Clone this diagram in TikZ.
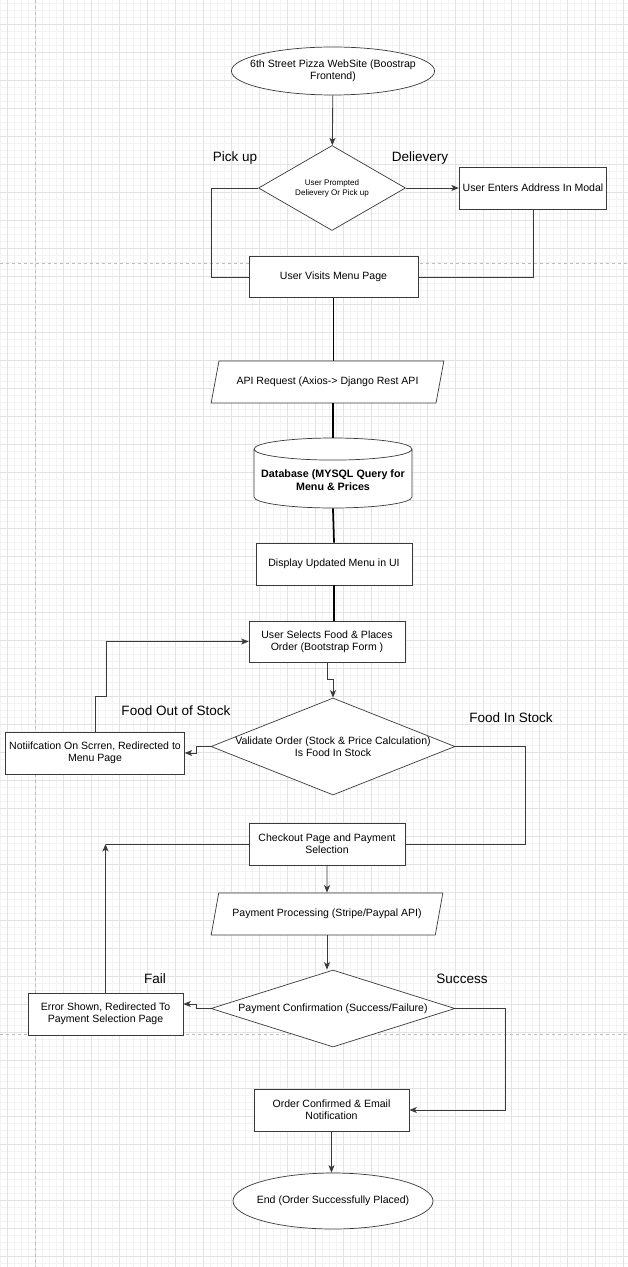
\documentclass[tikz,border=0pt]{standalone}
\usepackage{fontspec}
\setmainfont{Liberation Sans}
\usetikzlibrary{positioning,arrows.meta,calc,shapes.geometric}
\definecolor{ink}{HTML}{3A3A3A}
\definecolor{gridmajor}{HTML}{E2E2E2}
\definecolor{gridminor}{HTML}{F3F3F3}
\definecolor{pagebreak}{HTML}{BDBDBD}
\newcommand{\boxfont}{\fontsize{6}{6.8}\selectfont}
\newcommand{\tinyfont}{\fontsize{4.6}{5.7}\selectfont}
\newcommand{\tagfont}{\fontsize{7.7}{9}\selectfont}
\tikzset{
  procbox/.style={draw=ink, fill=white, align=center, font=\boxfont, minimum height=0.84cm, inner sep=2pt},
  endbox/.style={ellipse, draw=ink, fill=white, align=center, font=\boxfont, inner xsep=-0.22cm, inner ysep=0pt},
  decbox/.style={diamond, draw=ink, fill=white, inner sep=0pt},
  dectext/.style={align=center, inner sep=0pt},
  iobox/.style={trapezium, trapezium left angle=72, trapezium right angle=108, trapezium stretches=true, draw=ink, fill=white, align=center, font=\boxfont, minimum height=0.84cm},
  dbbox/.style={cylinder, shape border rotate=90, aspect=0.15, inner sep=1pt, anchor=shape center, draw=ink, fill=white, align=center, font=\bfseries\fontsize{6.1}{7.2}\selectfont},
  tagtext/.style={font=\tagfont, inner sep=0pt},
  flowarrow/.style={-{Stealth[length=1.5mm,width=1.2mm,inset=0.4mm]}, draw=ink, line width=0.5pt},
  flowline/.style={draw=ink, line width=0.5pt},
  mainline/.style={draw=black, line width=1pt}
}
\begin{document}
\begin{tikzpicture}[x=0.02cm, y=-0.02cm]
  \useasboundingbox (0,0) rectangle (628,1267);
  % background grid and page breaks
  \fill[white] (0,0) rectangle (628,1267);
  \foreach \gx in {0,7,...,628} \draw[gridminor, line width=0.3pt] (\gx,0) -- (\gx,1267);
  \foreach \gy in {3,10,...,1267} \draw[gridminor, line width=0.3pt] (0,\gy) -- (628,\gy);
  \foreach \gx in {7,35,...,628} \draw[gridmajor, line width=0.5pt] (\gx,0) -- (\gx,1267);
  \foreach \gy in {24,52,...,1267} \draw[gridmajor, line width=0.5pt] (0,\gy) -- (628,\gy);
  \draw[pagebreak, line width=0.5pt, dash pattern=on 0.06cm off 0.06cm] (35,0) -- (35,1267);
  \draw[pagebreak, line width=0.5pt, dash pattern=on 0.06cm off 0.06cm] (0,263) -- (628,263);
  \draw[pagebreak, line width=0.5pt, dash pattern=on 0.06cm off 0.06cm] (0,1034) -- (628,1034);

  % shapes
  \node[endbox, minimum width=4cm, minimum height=0.96cm] (start) at (333,71) {6th Street Pizza WebSite (Boostrap\\Frontend)};
  \node[decbox, minimum width=2.94cm, minimum height=1.7cm, label={[dectext, font=\tinyfont]center:{User Prompted\\Delievery Or Pick up}}] (prompt) at (332,188) {};
  \node[procbox, minimum width=2.8cm] (addr) at (533,188) {User Enters Address In Modal};
  \node[procbox, minimum width=3.38cm, minimum height=0.82cm] (menu) at (333.5,277) {User Visits Menu Page};
  \node[iobox, minimum width=4.66cm] (api) at (327.5,382) {API Request (Axios-> Django Rest API};
  \node[dbbox, minimum width=3.16cm, minimum height=1.4cm] (db) at (333,473) {Database (MYSQL Query for\\Menu \& Prices};
  \node[procbox, minimum width=3.12cm] (disp) at (334,564) {Display Updated Menu in UI};
  \node[procbox, minimum width=3.12cm, minimum height=0.82cm] (select) at (327,641.5) {User Selects Food \& Places\\Order (Bootstrap Form )};
  \node[decbox, minimum width=4.88cm, minimum height=1.94cm, label={[dectext, font=\boxfont]center:{Validate Order (Stock \& Price Calculation)\\Is Food In Stock}}] (validate) at (333,746.5) {};
  \node[procbox, minimum width=3.52cm] (notif) at (95,753) {Notiifcation On Scrren, Redirected to\\Menu Page};
  \node[procbox, minimum width=3.12cm] (check) at (327,844) {Checkout Page and Payment\\Selection};
  \node[iobox, minimum width=4.64cm] (pay) at (327,914) {Payment Processing (Stripe/Paypal API)};
  \node[decbox, minimum width=4.88cm, minimum height=1.54cm, label={[dectext, font=\boxfont]center:{Payment Confirmation (Success/Failure)}}] (confirm) at (333,1008.5) {};
  \node[procbox, minimum width=3.1cm] (err) at (105.5,1014) {Error Shown, Redirected To\\Payment Selection Page};
  \node[procbox, minimum width=3.1cm] (order) at (331.5,1110) {Order Confirmed \& Email\\Notification};
  \node[endbox, minimum width=4cm, minimum height=1.12cm] (finish) at (333,1201) {End (Order Successfully Placed)};

  % branch labels
  \node[tagtext] (pickup) at (235,158) {Pick up};
  \node[tagtext] (deliv) at (420,158) {Delievery};
  \node[tagtext] (nostock) at (176,711) {Food Out of Stock};
  \node[tagtext] (instock) at (511,718) {Food In Stock};
  \node[tagtext] (fail) at (155,979) {Fail};
  \node[tagtext] (success) at (462,979) {Success};

  % connectors
  \draw[flowarrow] (start) -- (prompt);
  \draw[flowarrow] (prompt.east) -- (addr.west);
  \draw[flowline] (prompt.west) -- ++(-47,0) |- (menu.west);
  \draw[flowline] (addr.south) |- (menu.east);
  \draw[mainline] (menu.south) -- (menu.south |- api.north);
  \draw[mainline] (db.north |- api.south) -- (db.north);
  \draw[mainline] (db.south) -- (disp.north);
  \draw[mainline] (disp.south) -- (disp.south |- select.north);
  \draw[flowarrow] (select.south) -- ++(0,17) -| (validate.north);
  \draw[flowarrow] (validate.west) -- ++(-14,0) |- (notif.east);
  \draw[flowarrow] (notif.north) |- ++(11,-35) |- (select.west);
  \draw[flowline] (validate.east) -- ++(70,0) |- (check.east);
  \coordinate (bend) at (err.north |- check.west);
  \draw[flowline] (check.west) -- (bend);
  \draw[flowarrow] (err.north) -- (bend);
  \draw[flowarrow] (check.south) -- (pay.north);
  \draw[flowarrow] (pay.south) -- (pay.south |- confirm.north);
  \draw[flowarrow] (confirm.west) -- ++(-14,0) |- ([yshift=0.2cm]err.east);
  \draw[flowarrow] (confirm.east) -- ++(50,0) |- (order.east);
  \draw[flowarrow] (order.south) -- (order.south |- finish.north);
\end{tikzpicture}
\end{document}
